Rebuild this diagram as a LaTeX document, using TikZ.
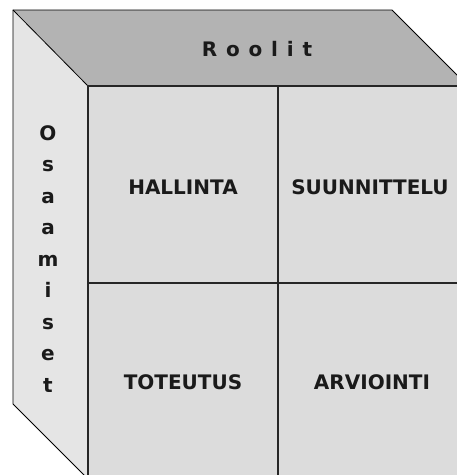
\documentclass[tikz,border=0pt]{standalone}
\usepackage{fontspec}
\setmainfont{DejaVu Sans}
\definecolor{topface}{HTML}{B3B3B3}
\definecolor{leftface}{HTML}{E5E5E5}
\definecolor{frontface}{HTML}{DCDCDC}
\definecolor{inkc}{HTML}{1A1A1A}
\tikzset{
  celltext/.style={font=\bfseries\fontsize{20}{24}\selectfont, text=inkc, anchor=base, inner sep=0pt},
  edge/.style={draw=black, line width=0.8pt},
}
\begin{document}
\begin{tikzpicture}[x=1pt,y=-1pt]
\useasboundingbox (0,0) rectangle (457,475);
% coordinates
\coordinate (tl) at (13,10);
\coordinate (tr) at (392,10);
\coordinate (ftl) at (88,86);
\coordinate (ftr) at (468,86);
\coordinate (lbl) at (13,404);
\coordinate (fbl) at (88,479);
\coordinate (fbr) at (468,479);
% faces
\fill[topface] (tl) -- (tr) -- (ftr) -- (ftl) -- cycle;
\fill[leftface] (tl) -- (ftl) -- (fbl) -- (lbl) -- cycle;
\fill[frontface] (ftl) rectangle (fbr);
% outlines
\draw[edge] (lbl) -- (tl) -- (tr) -- (ftr);
\draw[edge] (tl) -- (ftl);
\draw[edge] (lbl) -- (fbl);
\draw[line width=2.2pt, black!85] (fbl) -- (ftl) -- (ftr);
% dividers
\coordinate (vt) at (278,86);
\coordinate (vb) at (278,479);
\coordinate (hl) at (88,283);
\coordinate (hr) at (468,283);
\draw[line width=1.4pt, black!85] (vt) -- (vb);
\draw[line width=1.4pt, black!85] (hl) -- (hr);
% texts
\node[celltext] (roolit) at (257,56) {R\kern8.8pt o\kern8.8pt o\kern8.8pt l\kern8.8pt i\kern8.8pt t};
\node[celltext] (hallinta) at (183,194) {HALLINTA};
\node[celltext] (suunnittelu) at (370,194) {SUUNNITTELU};
\node[celltext] (toteutus) at (183,389) {TOTEUTUS};
\node[celltext] (arviointi) at (372,389) {ARVIOINTI};
\node[font=\bfseries\fontsize{20}{31.5}\selectfont, text=inkc, align=center, inner sep=0pt, anchor=north] (osaamiset) at (48,125) {O\\s\\a\\a\\m\\i\\s\\e\\t};
\end{tikzpicture}
\end{document}
